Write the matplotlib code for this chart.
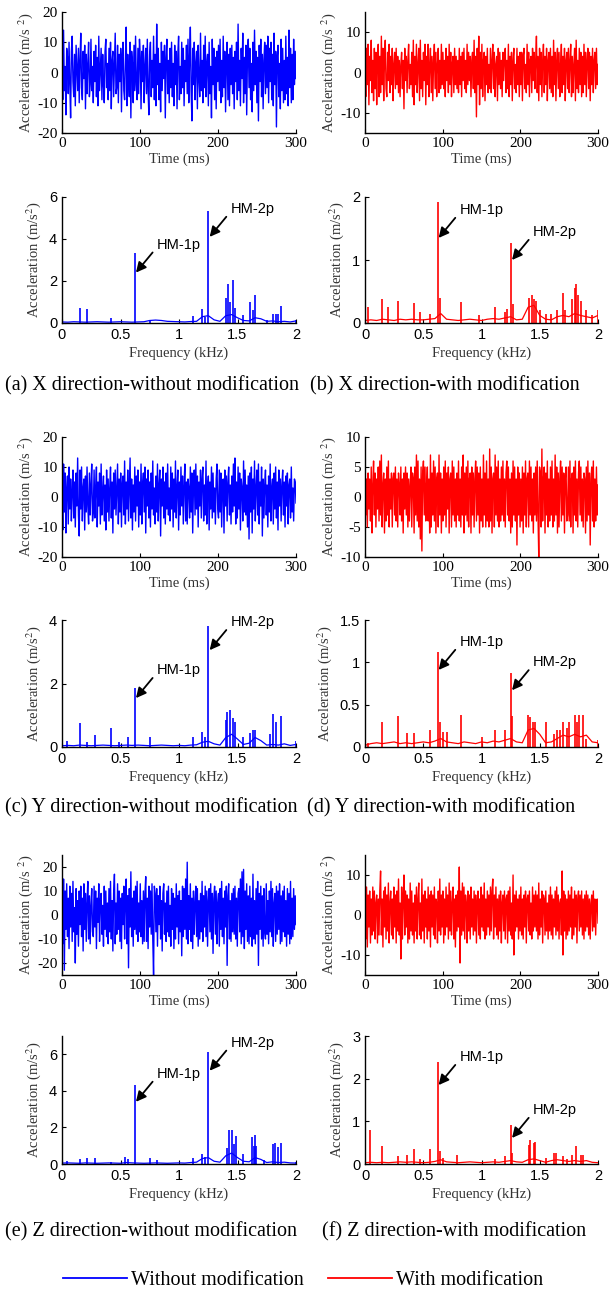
import matplotlib
matplotlib.use('Agg')
import matplotlib.pyplot as plt
from matplotlib.lines import Line2D
import numpy as np

plt.rcParams['font.family'] = 'Liberation Serif'
plt.rcParams['mathtext.fontset'] = 'stix'
plt.rcParams['axes.unicode_minus'] = False

# ---- time signals (m/s^2), 0..300 ms, 20 samples per row ----
x_wo = [3, -9, 14, -6, 2, -14, 8, 5, -7, 10, -4, -15, 7, 12, -3, -8, 6, -11, 9, 1,
        -6, 8, -10, 4, 13, -5, -9, 7, -2, 9, -12, 6, -7, 3, 10, -8, -4, 11, -6, 2,
        -10, 7, -3, 9, -8, 5, -11, 12, -6, 1, 8, -9, 6, -4, -10, 7, 11, -5, 3, -9,
        8, -6, 10, -12, 4, 7, -8, 2, 13, -7, -5, 9, -10, 6, -3, 8, -13, 5, 10, -6,
        -9, 4, 15, -11, 6, -2, -8, 10, -15, 7, 3, -10, 9, -6, 12, -4, -9, 8, -7, 11,
        5, -12, 7, -3, 9, -10, 2, 8, -7, 11, -6, -14, 6, 10, -8, 4, -5, 12, -9, 6,
        -11, 16, -4, 8, -9, 3, -13, 10, -6, 7, -2, 9, -15, 5, 11, -7, 4, -10, 8, -5,
        10, -8, 3, -11, 9, -4, 7, -12, 6, 12, -9, 2, -7, 10, -5, 8, -11, 4, -3, 9,
        -7, 11, -10, 5, 15, -6, -16, 8, -4, 10, -9, 3, 7, -12, 9, -2, -8, 13, -6, 4,
        -10, 9, -5, 12, -8, 3, 6, -11, 10, -7, 2, -15, 11, -4, 8, -9, 5, -12, 7, -3,
        9, -6, 11, -10, 4, -8, 12, -5, 7, -13, 3, 10, -9, 6, -11, 8, -4, 9, -7, 5,
        -12, 7, -3, 10, -9, 16, -6, 4, -11, 8, -2, 13, -10, 5, -7, 9, -14, 6, 11, -5,
        8, -9, 3, -13, 10, -6, 14, -4, 7, -10, 5, -16, 9, -3, 11, -8, 6, -12, 4, 10,
        -7, 9, -5, 12, -10, 8, -3, 10, -9, 6, -11, 13, -4, 7, -18, 5, 9, -8, 3, -12,
        11, -6, 8, -10, 4, -9, 12, -7, 5, -11, 14, -5, 8, -10, 6, -9, 11, -4, 7, -2]
x_w = [2, -6, 6, -3, 7, -8, 4, -2, 8, -5, 3, -7, 6, -4, 5, -8, 2, 7, -6, 4,
       -5, 9, -3, 6, -7, 3, 8, -4, -6, 5, -2, 7, -5, 4, -3, 6, -7, 2, 5, -4,
       6, -3, 4, -5, 3, -6, 2, 5, -4, 3, -9, 6, -2, 4, -5, 3, 7, -4, 2, -3,
       5, -6, 8, -8, 4, -3, 7, -5, 2, 6, -7, 8, -4, 3, -6, 5, -2, 7, -8, 4,
       -3, 7, -6, 2, 6, -5, 4, -7, 3, 7, -4, 5, -6, 2, 6, -5, 3, -4, 7, -3,
       5, -4, 3, -6, 6, -2, 4, -5, 7, -3, 5, -6, 2, 4, -5, 6, -3, 4, -4, 3,
       -5, 6, -3, 4, -6, 5, -2, 6, -4, 3, -5, 7, -3, 5, -2, 4, -6, 3, 5, -4,
       8, -5, 4, -11, 6, -3, 9, -8, 5, -4, 7, -6, 3, 5, -7, 4, -3, 6, -5, 2,
       -4, 6, -5, 3, 7, -4, 5, -6, 2, 4, -7, 6, -3, 5, -4, 3, -6, 5, -2, 4,
       6, -5, 3, -4, 7, -6, 4, -3, 5, -7, 3, 6, -4, 2, -5, 6, -3, 4, -6, 5,
       -3, 5, -7, 4, 6, -4, 2, -5, 7, -3, 5, -6, 3, 4, -5, 6, -2, 5, -4, 3,
       9, -5, 4, -7, 6, -3, 5, -6, 3, 7, -5, 4, -3, 6, -7, 3, 5, -4, 6, -5,
       4, -6, 8, -3, 5, -7, 3, 6, -4, 5, -6, 2, 7, -5, 4, -3, 6, -7, 3, 5,
       -4, 6, -5, 3, 7, -6, 4, -5, 2, 6, -7, 8, -4, 3, -5, 6, -3, 5, -6, 4,
       -5, 7, -3, 5, -6, 3, 6, -4, 5, -7, 4, -3, 6, -5, 3, 5, -4, 6, -3, 2]
y_wo = [4, -11, 11, -5, 8, -12, 3, 7, -9, 10, -4, 6, -8, 2, 9, -7, 5, -10, 8, -3,
        13, -6, -13, 9, -4, 10, -8, 3, 6, -11, 7, -5, 10, -3, -9, 8, -6, 4, 11, -8,
        -5, 9, -7, 3, 10, -10, 5, -3, 8, -9, 11, -6, 2, 7, -8, 4, -11, 9, -5, 6,
        -8, 3, 10, -7, 5, -12, 8, -4, 9, -6, 3, 11, -9, 6, -5, 8, -10, 4, 7, -6,
        12, -9, 5, -4, 9, -8, 3, 13, -7, 6, -11, 4, -5, 10, -8, 7, -3, 9, -10, 5,
        -6, 11, -9, 4, 8, -5, 10, -12, 6, -3, 9, -7, 5, -10, 8, -4, 12, -6, 3, -9,
        7, -5, 11, -8, 4, 9, -13, 6, -3, 10, -7, 5, -9, 8, -4, 11, -6, 3, -8, 10,
        -4, 8, -10, 6, -5, 12, -7, 3, 9, -11, 5, -6, 10, -3, 7, -9, 4, 11, -8, 5,
        -9, 6, 3, -7, 10, -5, 8, -12, 4, 9, -6, 11, -4, 7, -10, 5, -3, 9, -7, 6,
        10, -8, 4, -6, 12, -9, 3, 7, -11, 5, -4, 10, -7, 8, -5, 3, -9, 6, 11, -4,
        -7, 9, -5, 8, -10, 4, 6, -12, 9, -3, 7, -8, 5, 10, -6, 4, -9, 7, -5, 11,
        -3, 13, -9, 5, -7, 10, -4, 8, -11, 6, 3, -8, 12, -5, 9, -6, 4, -10, 7, -14,
        8, -5, 10, -12, 6, -4, 12, -8, 3, 9, -6, 11, -9, 5, -3, 10, -13, 6, -7, 4,
        9, -6, 4, -10, 7, -5, 11, -8, 3, 6, -9, 8, -4, 10, -7, 5, -11, 9, -3, 6,
        -8, 4, 9, -6, 5, -10, 7, -3, 8, -9, 4, 6, -7, 10, -5, 3, -8, 6, 5, -2]
y_w = [2, -3, 3, -5, 4, -2, 3, -4, 5, -6, 2, 6, -3, 4, -5, 3, -2, 5, -4, 6,
       -3, 7, -5, 2, 4, -6, 3, -4, 5, -3, 6, -5, 3, -2, 4, -5, 3, 4, -3, 5,
       -4, 3, -5, 4, 2, -3, 5, -4, 3, -6, 4, -2, 5, -3, 4, -5, 3, -4, 2, 5,
       -5, 4, 3, -6, 5, -3, 7, -4, 6, -5, 3, -7, 5, -9, 4, 6, -3, 5, -4, 2,
       5, -4, 3, -6, 7, -5, 4, -3, 6, -4, 5, -6, 3, 4, -5, 7, -3, 4, -6, 3,
       -4, 5, -3, 6, -5, 4, -2, 5, -6, 3, 4, -5, 6, -3, 5, -4, 3, -5, 4, -3,
       6, -4, 3, -5, 5, -3, 7, -6, 4, -3, 5, -4, 6, -5, 3, 4, -6, 5, -3, 4,
       -5, 3, 6, -4, 5, -3, 4, -6, 5, -4, 3, -5, 7, -3, 4, -5, 6, -4, 3, -5,
       8, -4, 5, -6, 3, 4, -5, 7, -3, 5, -4, 6, -5, 3, -4, 5, -3, 6, -4, 3,
       -5, 4, 6, -3, 5, -4, 3, -6, 4, -5, 6, -3, 5, -4, 3, -8, 5, -3, 4, -5,
       3, -4, 5, -6, 4, -3, 6, -5, 3, 4, -5, 6, -3, 5, -4, 3, -6, 4, -3, 5,
       -4, 6, -3, -10, 5, 4, -5, 8, -4, 3, 5, -6, 4, -3, 6, -5, 3, -4, 5, -3,
       6, -5, 3, -4, 7, -3, 5, -6, 4, -5, 3, 6, -4, 5, -3, 4, -6, 3, 5, -4,
       -3, 5, -4, 6, -5, 3, 4, -6, 5, -3, 6, -4, 3, -5, 4, 6, -3, 5, -4, 3,
       -5, 4, 3, -6, 5, -4, 6, -3, 4, -8, 3, 5, -4, 6, -5, 3, -4, 5, -3, 2]
z_wo = [4, -12, 15, -23, 10, -6, 13, -9, 7, -14, 12, -5, 9, -11, 14, -7, 3, -20, 11, -8,
        6, -13, 10, -4, 12, -9, 7, -15, 13, -6, 9, -11, 5, 14, -10, 8, -12, 4, 11, -7,
        -9, 12, -5, 10, -14, 7, -3, 13, -11, 6, 9, -8, 4, -13, 12, -6, 10, -9, 5, -12,
        11, -7, 14, -10, 6, -15, 9, 17, -12, 5, -8, 13, -6, 10, -11, 7, -14, 9, -4, 12,
        -10, 6, 15, -12, 8, -22, 11, -5, 18, -9, 7, -13, 10, -6, 12, -8, 14, -11, 5, -7,
        13, -9, 6, -12, 10, -11, 9, 16, -11, 7, -14, 12, -5, 10, -8, 13, -10, -25, 12, 9,
        -7, 11, -13, 8, -4, 12, -10, 6, -15, 9, 13, -8, 5, -11, 10, -7, 12, -9, 4, -13,
        11, -6, 9, -14, 7, -10, 13, -5, 8, -12, 10, -7, 6, -17, 12, -9, 11, -6, 15, -10,
        22, -12, 8, -6, 13, -11, 7, -14, 10, -8, 5, 12, -9, 11, -13, 6, -10, 9, -7, 14,
        -11, 8, -5, 12, -9, 10, -13, 6, 11, -7, 13, -10, 9, -16, 7, 12, -8, 10, -12, 5,
        9, -13, 11, -6, 14, -9, 7, -12, 10, -5, 12, -21, 8, 13, -10, 6, -11, 9, -7, 11,
        -8, 12, -10, 7, -13, 9, 11, -7, 15, -12, 18, -9, 19, -14, 10, -6, 13, -11, 8, -12,
        12, -9, 7, -13, 17, -10, 6, -12, 11, -8, 14, -21, 9, -6, 12, -10, 8, -13, 11, -7,
        -10, 13, -8, 6, -12, 10, -7, 14, -9, 11, -13, 5, 9, -11, 12, -8, 10, -6, 13, -12,
        8, -11, 10, -7, 12, -9, 6, -13, 11, -8, 9, -12, 14, -10, 7, -9, 11, -6, 8, -4]
z_w = [3, -6, 7, -8, 5, -3, 6, -7, 4, -5, 7, -4, 6, -6, 3, 5, -7, 4, -5, 6,
       11, -5, 4, -8, 6, -3, 7, -6, 5, -4, 8, -7, 3, 6, -5, 4, -6, 7, -3, 5,
       -7, 6, -4, 9, -5, 3, -11, 7, -6, 4, 10, -5, 6, -3, 5, -7, 4, -6, 8, -4,
       6, -5, 3, -7, 5, -4, 7, -6, 4, 8, -5, 3, -6, 9, -4, 5, -7, 6, -3, 4,
       -6, 7, -4, 5, -8, 6, -3, 5, -5, 7, -6, 4, 3, -7, 6, -4, 9, -5, 5, -3,
       6, -7, 4, -5, 7, -3, 5, -6, 8, -4, 6, -5, 3, 7, -6, 4, -8, 5, -4, 6,
       -3, 12, -12, 6, -5, 8, -4, 7, -6, 5, 3, -7, 6, -4, 5, -6, 7, -3, 4, -5,
       6, -4, 5, -7, 3, 6, -5, 4, -6, 7, -3, 5, -4, 8, -6, 4, -5, 6, -3, 5,
       -5, 7, -4, 6, 9, -6, 5, -3, 7, -5, 4, -6, 5, -4, 6, -7, 3, 5, -4, 6,
       -6, 4, 5, -7, 6, -4, 7, -5, 3, -6, 10, -10, 5, -4, 6, -3, 4, -6, 5, -4,
       7, -5, 4, -6, 5, -3, 6, -7, 4, 5, -4, 6, -5, 3, -6, 7, -4, 5, -3, 6,
       -4, 5, -6, 8, -5, 4, -3, 6, -7, 5, 4, -5, 6, -4, 3, -6, 5, -4, 7, -5,
       5, -6, 4, -3, 6, -5, 7, -4, 5, -6, 3, 4, -5, 11, -10, 6, -4, 5, -6, 4,
       -5, 6, -4, 5, -3, 7, -6, 4, -5, 6, -3, 5, -7, 4, 6, -4, 5, -3, 6, -5,
       4, -6, 5, -4, 6, -3, 5, -5, 4, -6, 3, 5, -4, 6, -3, 4, -5, 3, 4, -2]

# ---- spectra: low baseline (0..2 kHz) plus discrete peaks ----
xs_wo_base = [0.05, 0.04, 0.06, 0.05, 0.04, 0.05, 0.06, 0.05, 0.04, 0.05, 0.06, 0.05, 0.04, 0.05,
              0.06, 0.12, 0.14, 0.12, 0.08, 0.07, 0.06, 0.05, 0.07, 0.08, 0.30, 0.35, 0.15, 0.08,
              0.35, 0.40, 0.25, 0.12, 0.10, 0.25, 0.20, 0.08, 0.10, 0.06, 0.08, 0.05, 0.10]
xs_wo_pf = [0.15, 0.21, 0.42, 0.625, 0.75, 1.12, 1.20, 1.22, 1.25, 1.40, 1.42, 1.44, 1.46, 1.48,
            1.55, 1.61, 1.63, 1.65, 1.75, 1.80, 1.83, 1.85, 1.87, 2.0]
xs_wo_pa = [0.7, 0.65, 0.25, 3.35, 0.15, 0.35, 0.65, 0.3, 5.35, 1.2, 1.85, 1.0, 2.05, 0.7,
            0.4, 1.0, 0.6, 1.35, 0.15, 0.45, 0.45, 0.45, 0.8, 0.15]
xs_w_base = [0.04, 0.05, 0.04, 0.06, 0.05, 0.04, 0.06, 0.05, 0.06, 0.05, 0.05, 0.06, 0.07, 0.15,
             0.06, 0.05, 0.04, 0.05, 0.06, 0.05, 0.04, 0.06, 0.07, 0.06, 0.08, 0.10, 0.05, 0.06,
             0.25, 0.28, 0.12, 0.06, 0.05, 0.10, 0.12, 0.10, 0.15, 0.12, 0.10, 0.08, 0.12]
xs_w_pf = [0.03, 0.15, 0.20, 0.28, 0.42, 0.47, 0.56, 0.625, 0.64, 0.82, 0.98, 1.12, 1.20, 1.22,
           1.25, 1.27, 1.41, 1.43, 1.45, 1.47, 1.50, 1.55, 1.60, 1.65, 1.70, 1.72, 1.78, 1.80,
           1.81, 1.83, 1.85, 1.90, 1.95, 2.0]
xs_w_pa = [0.25, 0.38, 0.25, 0.35, 0.32, 0.18, 0.15, 1.92, 0.4, 0.33, 0.12, 0.25, 0.18, 0.22,
           1.27, 0.3, 0.4, 0.45, 0.38, 0.35, 0.2, 0.15, 0.15, 0.2, 0.48, 0.2, 0.38, 0.55,
           0.62, 0.45, 0.35, 0.2, 0.12, 0.2]
ys_wo_base = [0.04, 0.05, 0.04, 0.06, 0.05, 0.04, 0.05, 0.06, 0.05, 0.04, 0.05, 0.06, 0.05, 0.06,
              0.05, 0.04, 0.05, 0.06, 0.05, 0.04, 0.05, 0.04, 0.06, 0.07, 0.15, 0.18, 0.10, 0.06,
              0.30, 0.40, 0.25, 0.08, 0.12, 0.30, 0.20, 0.06, 0.08, 0.06, 0.10, 0.05, 0.08]
ys_wo_pf = [0.04, 0.15, 0.21, 0.28, 0.42, 0.49, 0.56, 0.625, 0.75, 1.12, 1.20, 1.22, 1.25, 1.40,
            1.41, 1.44, 1.46, 1.48, 1.55, 1.61, 1.63, 1.65, 1.78, 1.80, 1.83, 1.87, 2.0]
ys_wo_pa = [0.2, 0.75, 0.15, 0.38, 0.6, 0.15, 0.3, 1.85, 0.33, 0.32, 0.48, 0.3, 3.8, 0.85,
            1.1, 1.15, 0.9, 0.8, 0.3, 0.45, 0.55, 0.55, 0.4, 1.05, 0.8, 0.98, 0.18]
ys_w_base = [0.02, 0.04, 0.05, 0.04, 0.05, 0.06, 0.04, 0.05, 0.04, 0.05, 0.06, 0.05, 0.07, 0.10,
             0.06, 0.05, 0.04, 0.06, 0.05, 0.04, 0.06, 0.05, 0.07, 0.06, 0.08, 0.10, 0.06, 0.05,
             0.20, 0.22, 0.15, 0.05, 0.06, 0.10, 0.14, 0.12, 0.15, 0.12, 0.14, 0.06, 0.05]
ys_w_pf = [0.03, 0.15, 0.28, 0.36, 0.42, 0.56, 0.625, 0.64, 0.67, 0.70, 0.82, 1.0, 1.12, 1.20,
           1.25, 1.26, 1.40, 1.42, 1.44, 1.46, 1.55, 1.62, 1.65, 1.67, 1.70, 1.73, 1.75, 1.80,
           1.82, 1.84, 1.87, 1.90, 2.0]
ys_w_pa = [0.05, 0.3, 0.37, 0.17, 0.17, 0.2, 1.12, 0.3, 0.18, 0.18, 0.38, 0.12, 0.2, 0.2,
           0.87, 0.37, 0.38, 0.35, 0.3, 0.3, 0.3, 0.15, 0.2, 0.2, 0.3, 0.22, 0.3, 0.38,
           0.3, 0.38, 0.38, 0.1, 0.08]
zs_wo_base = [0.05, 0.06, 0.05, 0.04, 0.06, 0.05, 0.04, 0.05, 0.06, 0.05, 0.04, 0.08, 0.06, 0.05,
              0.04, 0.05, 0.06, 0.05, 0.04, 0.05, 0.06, 0.05, 0.08, 0.10, 0.30, 0.35, 0.15, 0.10,
              0.45, 0.60, 0.35, 0.15, 0.12, 0.35, 0.25, 0.08, 0.12, 0.08, 0.10, 0.06, 0.05]
zs_wo_pf = [0.04, 0.15, 0.21, 0.28, 0.42, 0.54, 0.56, 0.625, 0.75, 0.81, 1.12, 1.20, 1.22, 1.25,
            1.41, 1.43, 1.45, 1.47, 1.49, 1.55, 1.62, 1.64, 1.65, 1.66, 1.73, 1.80, 1.82, 1.85,
            1.87, 2.0]
zs_wo_pa = [0.15, 0.25, 0.35, 0.35, 0.1, 0.4, 0.25, 4.3, 0.35, 0.2, 0.35, 0.55, 0.4, 6.1,
            0.9, 1.85, 1.85, 1.1, 1.55, 0.55, 1.5, 1.0, 1.6, 1.0, 0.2, 1.1, 1.15, 0.95,
            1.15, 0.1]
zs_w_base = [0.03, 0.04, 0.03, 0.04, 0.03, 0.04, 0.05, 0.04, 0.05, 0.04, 0.03, 0.04, 0.06, 0.10,
             0.05, 0.04, 0.03, 0.04, 0.05, 0.04, 0.03, 0.04, 0.05, 0.04, 0.06, 0.08, 0.05, 0.04,
             0.10, 0.12, 0.08, 0.04, 0.08, 0.10, 0.08, 0.06, 0.08, 0.06, 0.08, 0.04, 0.03]
zs_w_pf = [0.04, 0.15, 0.28, 0.36, 0.42, 0.47, 0.56, 0.625, 0.64, 0.67, 0.79, 1.12, 1.20, 1.25,
           1.26, 1.41, 1.42, 1.45, 1.46, 1.55, 1.62, 1.64, 1.70, 1.73, 1.78, 1.81, 1.85, 1.87]
zs_w_pa = [0.8, 0.42, 0.18, 0.2, 0.35, 0.12, 0.35, 2.38, 0.3, 0.15, 0.2, 0.12, 0.18, 0.92,
           0.25, 0.45, 0.56, 0.5, 0.52, 0.15, 0.25, 0.25, 0.18, 0.12, 0.2, 0.42, 0.2, 0.22]

# arrow tip heights for HM-1p / HM-2p labels
hm_heads = {
    'xs_wo': (2.4, 4.1), 'xs_w': (1.35, 1.0),
    'ys_wo': (1.54, 3.05), 'ys_w': (0.91, 0.67),
    'zs_wo': (3.4, 5.1), 'zs_w': (1.85, 0.61),
}

W, H = 610, 1292
fig = plt.figure(figsize=(W / 100, H / 100), dpi=100)

SANS = 'Liberation Sans'
BLUE = (0, 0, 1)
RED = (1, 0, 0)


def make_ax(left, right, top, bottom):
    ax = fig.add_axes([left / W, 1 - bottom / H, (right - left) / W, (bottom - top) / H])
    ax.spines['top'].set_visible(False)
    ax.spines['right'].set_visible(False)
    for s in ('left', 'bottom'):
        ax.spines[s].set_linewidth(1.0)
    ax.tick_params(direction='in', length=3, width=0.8, top=False, right=False)
    return ax


def time_panel(left, right, top, bottom, sig, color, ylim, yticks):
    ax = make_ax(left, right, top, bottom)
    t = np.linspace(0, 300, len(sig))
    ax.plot(t, sig, color=color, lw=1.0)
    ax.set_xlim(0, 300)
    ax.set_ylim(*ylim)
    ax.set_xticks([0, 100, 200, 300])
    ax.set_yticks(yticks)
    ax.tick_params(labelsize=11, pad=3)
    ax.set_xlabel('Time (ms)', fontsize=10.5, color='#333333', labelpad=2)
    ax.set_ylabel('Acceleration (m/s $^2$)', fontsize=10.5, color='#333333', labelpad=2)
    return ax


def freq_panel(left, right, top, bottom, base, pf, pa, color, ylim, yticks, ytl, heads):
    ax = make_ax(left, right, top, bottom)
    f = np.linspace(0, 2, len(base))
    ax.plot(f, base, color=color, lw=0.9)
    ax.vlines(pf, 0, pa, color=color, lw=1.2)
    ax.set_xlim(0, 2)
    ax.set_ylim(*ylim)
    ax.set_xticks([0, 0.5, 1, 1.5, 2])
    ax.set_xticklabels(['0', '0.5', '1', '1.5', '2'])
    ax.set_yticks(yticks)
    ax.set_yticklabels(ytl)
    for lab in ax.get_xticklabels() + ax.get_yticklabels():
        lab.set_fontfamily(SANS)
        lab.set_fontsize(10.5)
    ax.set_xlabel('Frequency (kHz)', fontsize=10.5, color='#333333', labelpad=3)
    ax.set_ylabel('Acceleration (m/s$^2$)', fontsize=10.5, color='#333333', labelpad=4)
    for name, fx, fy in (('HM-1p', 0.632, heads[0]), ('HM-2p', 1.262, heads[1])):
        ax.annotate('', xy=(fx, fy), xytext=(12, 14.5), textcoords='offset points',
                    arrowprops=dict(arrowstyle='-|>', color='k', lw=1.3,
                                    mutation_scale=15, shrinkA=0, shrinkB=0))
        ax.annotate(name, xy=(fx, fy), xytext=(31, 20), textcoords='offset points',
                    ha='center', va='center', fontsize=10.5, fontfamily=SANS)
    return ax


LX = (62, 296)
RX = (365, 598)

# X direction
time_panel(*LX, 12, 133, x_wo, BLUE, (-20, 20), [-20, -10, 0, 10, 20])
time_panel(*RX, 12, 133, x_w, RED, (-15, 15), [-10, 0, 10])
freq_panel(*LX, 197, 323, xs_wo_base, xs_wo_pf, xs_wo_pa, BLUE, (0, 6), [0, 2, 4, 6],
           ['0', '2', '4', '6'], hm_heads['xs_wo'])
freq_panel(*RX, 197, 323, xs_w_base, xs_w_pf, xs_w_pa, RED, (0, 2), [0, 1, 2],
           ['0', '1', '2'], hm_heads['xs_w'])

# Y direction
time_panel(*LX, 437, 557, y_wo, BLUE, (-20, 20), [-20, -10, 0, 10, 20])
time_panel(*RX, 437, 557, y_w, RED, (-10, 10), [-10, -5, 0, 5, 10])
freq_panel(*LX, 620, 747, ys_wo_base, ys_wo_pf, ys_wo_pa, BLUE, (0, 4), [0, 2, 4],
           ['0', '2', '4'], hm_heads['ys_wo'])
freq_panel(*RX, 620, 747, ys_w_base, ys_w_pf, ys_w_pa, RED, (0, 1.5), [0, 0.5, 1, 1.5],
           ['0', '0.5', '1', '1.5'], hm_heads['ys_w'])

# Z direction
time_panel(*LX, 855, 975, z_wo, BLUE, (-25, 25), [-20, -10, 0, 10, 20])
time_panel(*RX, 855, 975, z_w, RED, (-15, 15), [-10, 0, 10])
freq_panel(*LX, 1036, 1164, zs_wo_base, zs_wo_pf, zs_wo_pa, BLUE, (0, 7), [0, 2, 4, 6],
           ['0', '2', '4', '6'], hm_heads['zs_wo'])
freq_panel(*RX, 1036, 1164, zs_w_base, zs_w_pf, zs_w_pa, RED, (0, 3), [0, 1, 2, 3],
           ['0', '1', '2', '3'], hm_heads['zs_w'])

captions = [
    (386, '(a) X direction-without modification', 310, '(b) X direction-with modification'),
    (808, '(c) Y direction-without modification', 307, '(d) Y direction-with modification'),
    (1232, '(e) Z direction-without modification', 322, '(f) Z direction-with modification'),
]
for y, lt, rx, rt in captions:
    fig.text(5 / W, 1 - y / H, lt, fontsize=14.5, va='center', ha='left')
    fig.text(rx / W, 1 - y / H, rt, fontsize=14.5, va='center', ha='left')

handles = [Line2D([], [], color=BLUE, lw=1.3), Line2D([], [], color=RED, lw=1.3)]
fig.legend(handles, ['Without modification', 'With modification'], loc='center',
           bbox_to_anchor=(303 / W, 1 - 1280 / H), ncol=2, frameon=False,
           handlelength=3.2, handletextpad=0.2, columnspacing=1.2,
           prop={'size': 14.5, 'family': 'Liberation Serif'})

fig.savefig('out.png', dpi=100)
